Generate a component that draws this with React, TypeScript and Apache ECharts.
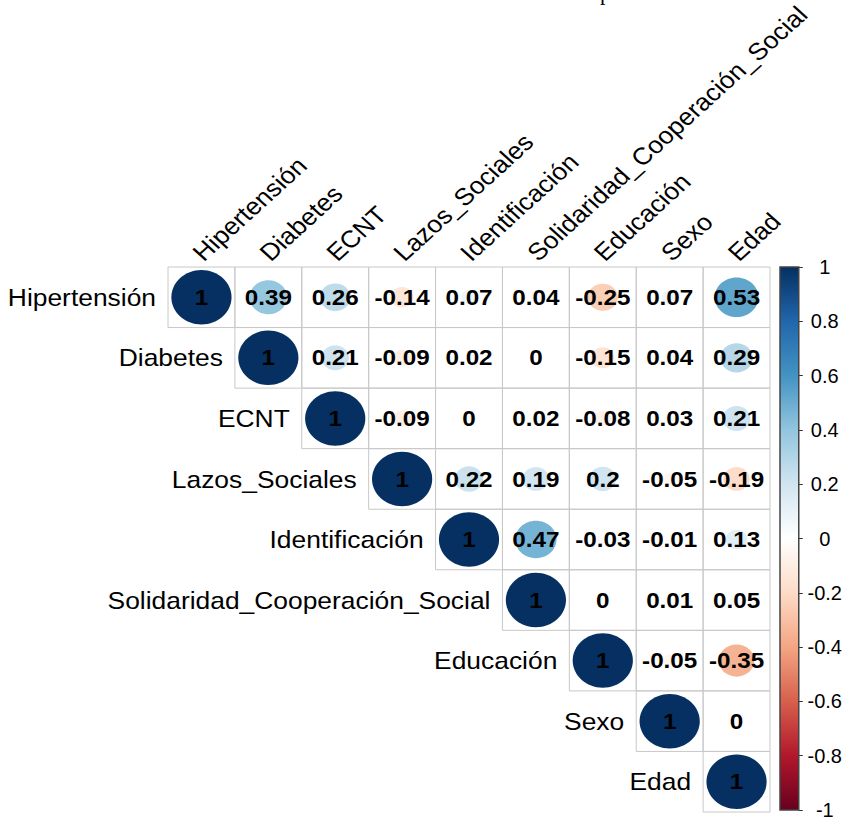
import React, { useEffect, useRef } from "react";
import * as echarts from "echarts";

// Variables, in matrix order (rows top to bottom, columns left to right)
const VARS = [
  "Hipertensión",
  "Diabetes",
  "ECNT",
  "Lazos_Sociales",
  "Identificación",
  "Solidaridad_Cooperación_Social",
  "Educación",
  "Sexo",
  "Edad",
];

// Upper-triangle correlations, each row starting at its diagonal cell
const R_HIPERTENSION = [1, 0.39, 0.26, -0.14, 0.07, 0.04, -0.25, 0.07, 0.53];
const R_DIABETES = [1, 0.21, -0.09, 0.02, 0, -0.15, 0.04, 0.29];
const R_ECNT = [1, -0.09, 0, 0.02, -0.08, 0.03, 0.21];
const R_LAZOS = [1, 0.22, 0.19, 0.2, -0.05, -0.19];
const R_IDENTIFICACION = [1, 0.47, -0.03, -0.01, 0.13];
const R_SOLIDARIDAD = [1, 0, 0.01, 0.05];
const R_EDUCACION = [1, -0.05, -0.35];
const R_SEXO = [1, 0];
const R_EDAD = [1];

const ROWS = [
  R_HIPERTENSION,
  R_DIABETES,
  R_ECNT,
  R_LAZOS,
  R_IDENTIFICACION,
  R_SOLIDARIDAD,
  R_EDUCACION,
  R_SEXO,
  R_EDAD,
];

// Colour bar ticks
const BAR_MIN = -1;
const BAR_MAX = 1;
const BAR_STEP = 0.2;

// Diverging red-blue palette, from -1 to 1
const PALETTE = [
  "#67001F",
  "#B2182B",
  "#D6604D",
  "#F4A582",
  "#FDDBC7",
  "#FFFFFF",
  "#D1E5F0",
  "#92C5DE",
  "#4393C3",
  "#2166AC",
  "#053061",
];

const SANS = '"Liberation Sans", Arial, sans-serif';
// Text is drawn slightly widened, like the cells themselves
const STRETCH = 1.1;

function fmt(v: number): string {
  return String(Math.round(v * 100) / 100);
}

export default function App() {
  const ref = useRef<HTMLDivElement>(null);

  useEffect(() => {
    if (!ref.current) return;
    const chart = echarts.init(ref.current, null, { renderer: "svg" });

    const cells: number[][] = [];
    ROWS.forEach((vals, r) => {
      vals.forEach((v, k) => cells.push([r + k, r, v]));
    });

    const option: any = {
      animation: false,
      backgroundColor: "#ffffff",
      graphic: [
        {
          type: "text",
          x: 600,
          y: -8,
          style: {
            text: "p",
            font: '22px "Liberation Serif", serif',
            fill: "#000",
            verticalAlign: "middle",
          },
        },
      ],
      grid: [
        { left: 168, top: 267, width: 602, height: 545 },
        { left: 780, top: 267, width: 22, height: 545 },
      ],
      xAxis: [
        { type: "category", data: VARS, gridIndex: 0, show: false },
        { type: "category", data: ["bar"], gridIndex: 1, show: false },
      ],
      yAxis: [
        { type: "category", data: VARS, inverse: true, gridIndex: 0, show: false },
        {
          type: "value",
          gridIndex: 1,
          position: "right",
          min: BAR_MIN,
          max: BAR_MAX,
          interval: BAR_STEP,
          axisLine: { show: false },
          axisTick: { show: true, length: 4, lineStyle: { color: "#333", width: 1 } },
          splitLine: { show: false },
          axisLabel: {
            margin: 26,
            align: "center",
            color: "#000",
            fontSize: 20,
            fontFamily: SANS,
          },
        },
      ],
      visualMap: {
        show: false,
        type: "continuous",
        min: BAR_MIN,
        max: BAR_MAX,
        dimension: 2,
        seriesIndex: 0,
        inRange: { color: PALETTE },
      },
      series: [
        {
          type: "custom",
          xAxisIndex: 0,
          yAxisIndex: 0,
          encode: { x: 0, y: 1 },
          data: cells,
          renderItem: (params: any, api: any) => {
            const col = api.value(0);
            const row = api.value(1);
            const v = api.value(2);
            const [cx, cy] = api.coord([col, row]);
            const [w, h] = api.size([1, 1]);
            const s = Math.sqrt(Math.abs(v));
            const children: any[] = [
              {
                type: "rect",
                shape: { x: cx - w / 2, y: cy - h / 2, width: w, height: h },
                style: { fill: "none", stroke: "#c8c8c8", lineWidth: 1 },
              },
              {
                type: "ellipse",
                shape: { cx, cy, rx: 0.45 * w * s, ry: 0.45 * h * s },
                style: { fill: api.visual("color") },
              },
              {
                type: "text",
                x: cx,
                y: cy,
                scaleX: STRETCH,
                style: {
                  text: fmt(v),
                  font: `bold 22px ${SANS}`,
                  fill: "#000",
                  align: "center",
                  verticalAlign: "middle",
                },
              },
            ];
            if (col === row) {
              children.push({
                type: "text",
                x: cx - w / 2 - 12,
                y: cy,
                scaleX: STRETCH,
                style: {
                  text: VARS[row],
                  font: `24px ${SANS}`,
                  fill: "#000",
                  align: "right",
                  verticalAlign: "middle",
                },
              });
            }
            if (row === 0) {
              children.push({
                type: "group",
                x: cx + 5,
                y: cy - h / 2 - 2,
                scaleX: STRETCH,
                children: [
                  {
                    type: "text",
                    x: 0,
                    y: 0,
                    rotation: Math.PI / 4,
                    style: {
                      text: VARS[col],
                      font: `24px ${SANS}`,
                      fill: "#000",
                      align: "left",
                      verticalAlign: "bottom",
                    },
                  },
                ],
              });
            }
            return { type: "group", children };
          },
        },
        {
          type: "custom",
          xAxisIndex: 1,
          yAxisIndex: 1,
          data: [[0, BAR_MAX]],
          renderItem: (params: any, api: any) => {
            const cs = params.coordSys;
            const top = api.coord([0, BAR_MAX])[1];
            const bottom = api.coord([0, BAR_MIN])[1];
            const stops = PALETTE.map((c, i) => ({
              offset: i / (PALETTE.length - 1),
              color: c,
            }));
            return {
              type: "rect",
              shape: { x: cs.x, y: top, width: cs.width, height: bottom - top },
              style: {
                fill: new echarts.graphic.LinearGradient(0, 1, 0, 0, stops),
                stroke: "#444",
                lineWidth: 1.5,
              },
            };
          },
        },
      ],
    };

    chart.setOption(option);
    return () => chart.dispose();
  }, []);

  return (
    <div
      ref={ref}
      style={{ position: "fixed", left: 0, top: 0, width: 845, height: 820 }}
    />
  );
}
